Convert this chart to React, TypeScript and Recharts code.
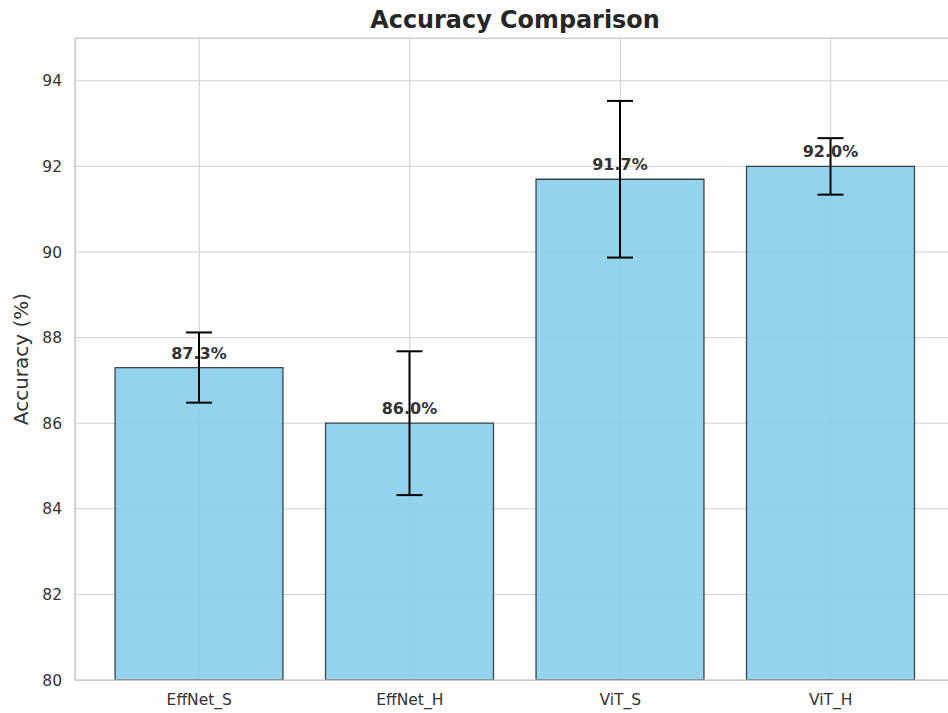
import { Bar, BarChart, CartesianGrid, ErrorBar, LabelList, XAxis, YAxis } from "recharts";

const models = ["EffNet_S", "EffNet_H", "ViT_S", "ViT_H"];
const accuracy = [87.3, 86.0, 91.7, 92.0];
const accuracyStd = [0.82, 1.68, 1.83, 0.66];
const yTicks = [80, 82, 84, 86, 88, 90, 92, 94];

const data = models.map((model, i) => ({
  model,
  accuracy: accuracy[i],
  std: accuracyStd[i],
}));

const font = "'DejaVu Sans', sans-serif";
const tickStyle = { fontSize: 15.5, fill: "#333", fontFamily: font };

// the original axes run a few pixels past the right edge of the picture
const chartWidth = 956;

export default function App() {
  return (
    <div
      style={{
        position: "absolute",
        left: 0,
        top: 0,
        width: 948,
        height: 713,
        overflow: "hidden",
        background: "#fff",
      }}
    >
      <svg width={948} height={40} style={{ position: "absolute", left: 0, top: 0 }}>
        <text x={515} y={28} textAnchor="middle" fontFamily={font} fontWeight="bold" fontSize={23.9} fill="#262626">
          Accuracy Comparison
        </text>
      </svg>
      <BarChart
        width={chartWidth}
        height={713}
        data={data}
        margin={{ top: 38, right: 1, left: 0, bottom: 0 }}
        style={{ position: "absolute", left: 0, top: 0 }}
      >
        <CartesianGrid stroke="#d0d0d0" />
        <XAxis
          dataKey="model"
          height={33}
          padding={{ left: 19, right: 19 }}
          tickLine={false}
          tickSize={0}
          tickMargin={14}
          axisLine={{ stroke: "#cccccc" }}
          tick={tickStyle}
        />
        <YAxis
          domain={[80, 95]}
          ticks={yTicks}
          allowDataOverflow
          width={75}
          tickLine={false}
          tickSize={0}
          tickMargin={13}
          axisLine={{ stroke: "#cccccc" }}
          tick={tickStyle}
          label={{
            content: () => (
              <text
                x={28}
                y={359}
                transform="rotate(-90, 28, 359)"
                textAnchor="middle"
                fontFamily={font}
                fontSize={20}
                fill="#333"
              >
                Accuracy (%)
              </text>
            ),
          }}
        />
        <Bar
          dataKey="accuracy"
          barSize={168}
          fill="#87CEEB"
          fillOpacity={0.9}
          stroke="#000"
          strokeOpacity={0.7}
          strokeWidth={1.3}
          isAnimationActive={false}
        >
          <LabelList
            dataKey="accuracy"
            position="top"
            offset={9}
            formatter={(v: any) => `${Number(v).toFixed(1)}%`}
            style={{ fontFamily: font, fontWeight: "bold", fontSize: 16, fill: "#333" }}
          />
          <ErrorBar dataKey="std" direction="y" width={13} stroke="#000" strokeWidth={2} isAnimationActive={false} />
        </Bar>
      </BarChart>
      <div
        style={{
          position: "absolute",
          left: 75,
          top: 38,
          width: chartWidth - 77,
          height: 641,
          border: "1px solid #cccccc",
          pointerEvents: "none",
        }}
      />
    </div>
  );
}
